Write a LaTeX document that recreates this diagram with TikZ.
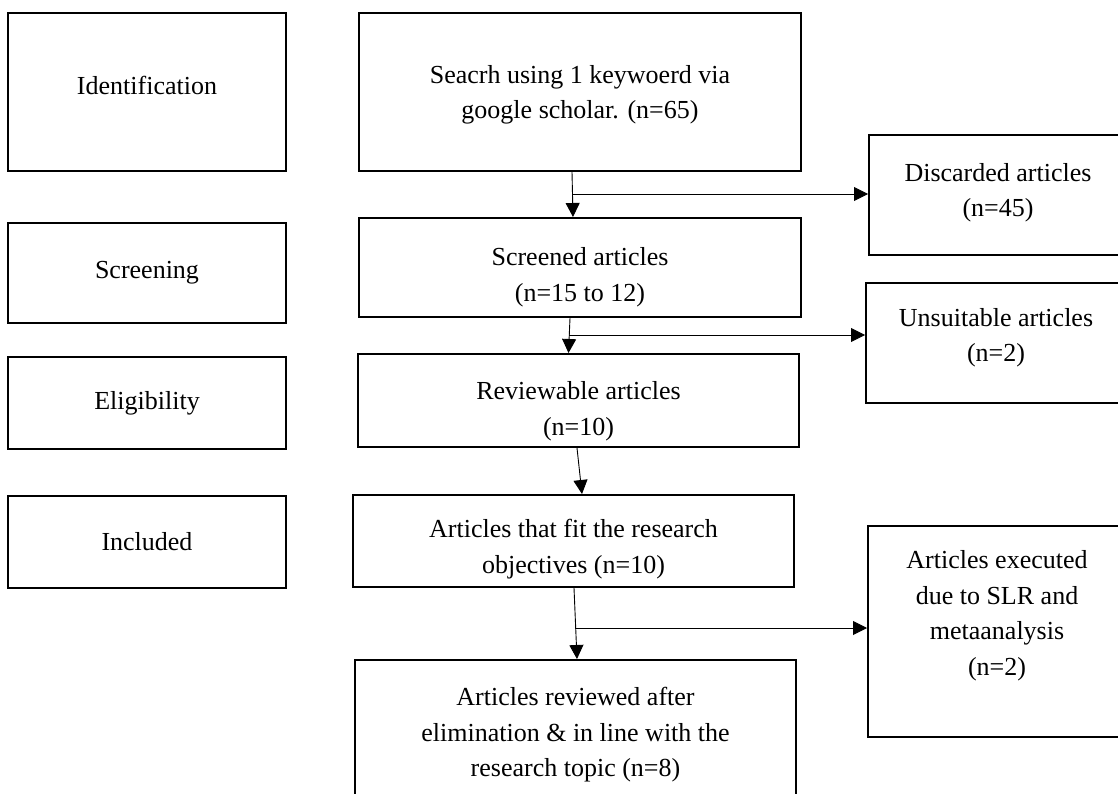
\documentclass[tikz,border=0pt]{standalone}
\usepackage{fontspec}
\setmainfont{Liberation Serif}
\usepackage{tikz}
\usetikzlibrary{positioning,arrows.meta,calc}

\tikzset{
    box/.style = {draw, rectangle, line width=2pt, align=center, inner sep=2pt},
    arr/.style = {-{Triangle[length=14pt,width=14pt]}, line width=0.9pt},
}

\begin{document}
\begin{tikzpicture}[x=1pt, y=-1pt, font=\fontsize{26}{35.5}\selectfont]
    \clip (0,0) rectangle (1118,794);

    % stage labels on the left
    \node[box, minimum width=278pt, minimum height=158pt, text depth=14pt] (l1) at (147,92) {Identification};
    \node[box, minimum width=278pt, minimum height=100pt] (l2) at (147,273) {Screening};
    \node[box, minimum width=278pt, minimum height=92pt] (l3) at (147,403) {Eligibility};
    \node[box, minimum width=278pt, minimum height=92pt] (l4) at (147,542) {Included};

    % main column
    \node[box, minimum width=442pt, minimum height=158pt, text height=59pt] (p1) at (580,92)
        {Seacrh using 1 keywoerd via\\ google scholar. (n=65)};
    \node[box, minimum width=442pt, minimum height=99pt, text height=73pt] (p2) at (580,267.5)
        {Screened articles\\ (n=15 to 12)};
    \node[box, minimum width=441pt, minimum height=93pt, text height=75pt] (p3) at (578.5,400.5)
        {Reviewable articles\\ (n=10)};
    \node[box, minimum width=441pt, minimum height=92pt, text height=70pt] (p4) at (573.5,541)
        {Articles that fit the research\\ objectives (n=10)};
    \node[box, minimum width=441pt, minimum height=150pt] (p5) at (575.5,735)
        {Articles reviewed after\\ elimination \& in line with the\\ research topic (n=8)};

    % removed articles on the right
    \node[box, minimum width=258pt, minimum height=120pt, text depth=10pt] (n1) at (998,195)
        {Discarded articles\\ (n=45)};
    \node[box, minimum width=260pt, minimum height=120pt, text depth=16pt] (n2) at (996,343)
        {Unsuitable articles\\ (n=2)};
    \node[box, minimum width=258pt, minimum height=211pt, text depth=37pt] (n3) at (997,631.5)
        {Articles executed\\ due to SLR and\\ metaanalysis\\ (n=2)};

    % flow
    \draw[arr] ([xshift=-8pt]p1.south) -- ([xshift=-7pt]p2.north);
    \draw[arr] ([xshift=-10pt]p2.south) -- ([xshift=-10pt]p3.north);
    \draw[arr] ([xshift=-1.5pt]p3.south) -- ([xshift=8.5pt]p4.north);
    \draw[arr] ([xshift=0.5pt]p4.south) -- ([xshift=1.5pt]p5.north);

    \coordinate (j1) at (572,194);
    \coordinate (j2) at (569,335);
    \coordinate (j3) at (575,628);
    \draw[arr] (j1) -- (j1 -| n1.west);
    \draw[arr] (j2) -- (j2 -| n2.west);
    \draw[arr] (j3) -- (j3 -| n3.west);
\end{tikzpicture}
\end{document}
